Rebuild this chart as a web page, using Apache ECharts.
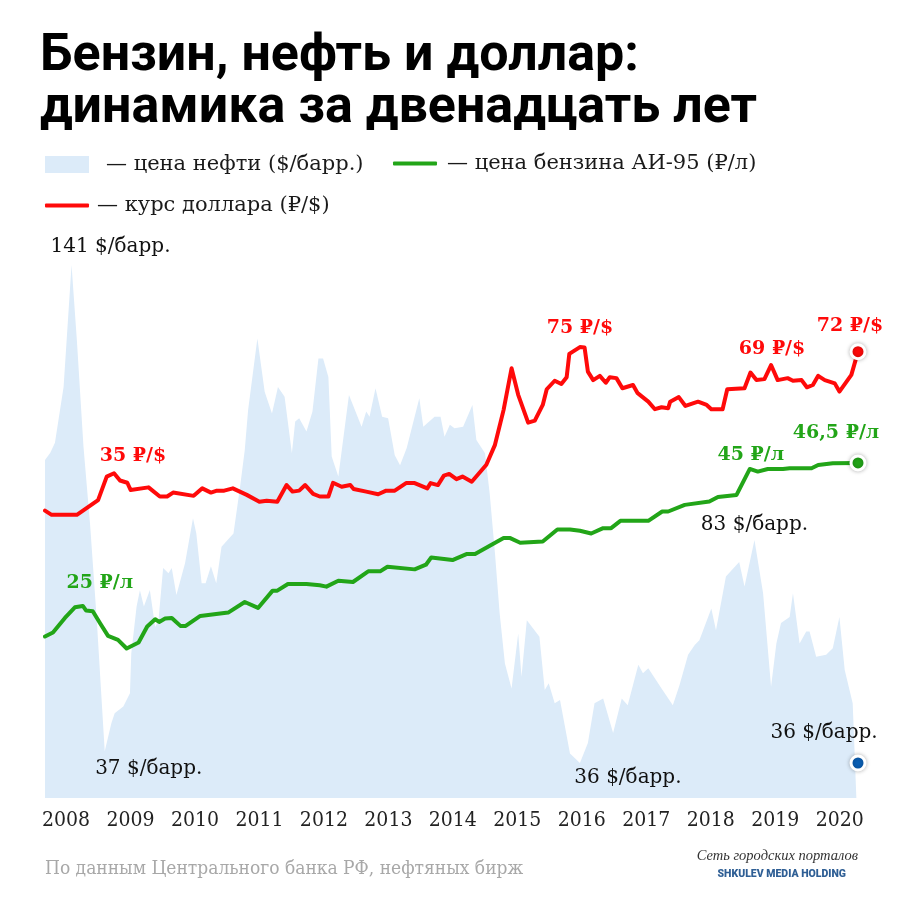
<!DOCTYPE html>
<html>
<head>
<meta charset="utf-8">
<script src="https://cdn.jsdelivr.net/npm/echarts@6/dist/echarts.min.js"></script>
<style>
html,body{margin:0;padding:0;background:#fff;}
#chart{width:900px;height:900px;}
</style>
</head>
<body>
<div id="chart"></div>
<script>
// Decimal-year positions with values
const yearLabels = [2008,2009,2010,2011,2012,2013,2014,2015,2016,2017,2018,2019,2020];

const oilData = [[2008.00,99.9],[2008.08,101.4],[2008.15,103.5],[2008.28,115.3],[2008.40,141],[2008.48,125.2],[2008.58,102.7],[2008.68,86.2],[2008.78,66.2],[2008.90,38.5],[2009.00,44.4],[2009.05,46.5],[2009.18,47.9],[2009.28,50.7],[2009.30,59.1],[2009.38,69.0],[2009.43,72.4],[2009.49,69.0],[2009.58,72.5],[2009.66,64.7],[2009.71,66.1],[2009.78,77.1],[2009.86,76.0],[2009.91,77.1],[2009.98,71.4],[2010.11,78.1],[2010.23,87.6],[2010.28,84.4],[2010.36,73.9],[2010.42,73.9],[2010.50,77.5],[2010.58,73.9],[2010.66,81.6],[2010.84,84.4],[2010.94,94.3],[2011.01,102.0],[2011.06,110.4],[2011.20,125.5],[2011.31,114.3],[2011.42,109.7],[2011.51,115.3],[2011.61,113.2],[2011.72,101.3],[2011.77,108.0],[2011.83,108.7],[2011.94,105.9],[2012.03,110.1],[2012.12,121.3],[2012.19,121.3],[2012.27,117.4],[2012.32,100.6],[2012.42,96.4],[2012.58,113.6],[2012.77,106.9],[2012.84,110.1],[2012.89,109.0],[2012.98,115.0],[2013.08,109.0],[2013.17,108.7],[2013.27,100.9],[2013.35,98.8],[2013.45,102.4],[2013.64,112.9],[2013.70,106.9],[2013.87,109.0],[2013.96,109.0],[2014.02,104.8],[2014.10,107.3],[2014.17,106.6],[2014.30,106.9],[2014.44,111.5],[2014.50,104.1],[2014.63,101.3],[2014.70,92.9],[2014.78,80.2],[2014.85,67.6],[2014.93,57.0],[2015.03,51.7],[2015.13,63.3],[2015.18,54.2],[2015.26,66.1],[2015.45,62.6],[2015.53,51.4],[2015.59,52.8],[2015.68,48.6],[2015.76,49.3],[2015.91,38.0],[2016.06,36.0],[2016.18,40.2],[2016.28,48.6],[2016.41,49.6],[2016.56,42.3],[2016.69,49.6],[2016.78,48.2],[2016.94,56.7],[2017.01,54.9],[2017.09,56.0],[2017.29,51.7],[2017.46,48.2],[2017.56,52.4],[2017.69,58.8],[2017.79,60.9],[2017.86,61.9],[2018.04,68.6],[2018.11,64.0],[2018.26,75.3],[2018.46,78.4],[2018.54,73.2],[2018.69,83.0],[2018.82,71.8],[2018.94,52.1],[2019.02,61.2],[2019.09,65.5],[2019.22,66.8],[2019.27,71.8],[2019.37,61.2],[2019.47,63.7],[2019.52,63.7],[2019.62,58.4],[2019.77,58.8],[2019.87,60.2],[2019.97,66.8],[2020.05,55.6],[2020.17,48.6],[2020.23,27.0]];

const gasData = [[2008.00,20.4],[2008.12,21.0],[2008.30,23.2],[2008.45,24.8],[2008.57,25.0],[2008.62,24.3],[2008.72,24.2],[2008.83,22.4],[2008.95,20.5],[2009.10,19.9],[2009.23,18.6],[2009.41,19.5],[2009.54,21.9],[2009.66,23.0],[2009.72,22.6],[2009.81,23.1],[2009.91,23.2],[2010.04,22.0],[2010.12,22.0],[2010.34,23.5],[2010.76,24.0],[2011.01,25.6],[2011.21,24.7],[2011.43,27.3],[2011.50,27.3],[2011.66,28.3],[2011.94,28.3],[2012.14,28.1],[2012.24,27.9],[2012.42,28.8],[2012.64,28.6],[2012.87,30.2],[2013.05,30.2],[2013.16,30.9],[2013.57,30.5],[2013.74,31.2],[2013.82,32.3],[2014.14,31.9],[2014.35,32.8],[2014.48,32.8],[2014.91,35.2],[2015.01,35.2],[2015.16,34.5],[2015.50,34.7],[2015.72,36.5],[2015.91,36.5],[2016.06,36.3],[2016.23,35.9],[2016.41,36.7],[2016.53,36.7],[2016.67,37.8],[2017.09,37.8],[2017.30,39.2],[2017.39,39.2],[2017.64,40.2],[2018.01,40.7],[2018.14,41.4],[2018.42,41.7],[2018.62,45.6],[2018.74,45.2],[2018.89,45.6],[2019.12,45.6],[2019.22,45.7],[2019.55,45.7],[2019.65,46.2],[2019.87,46.45],[2020.25,46.5]];

const usdData = [[2008.00,23.5],[2008.10,22.2],[2008.48,22.2],[2008.80,26.7],[2008.93,33.9],[2009.04,34.9],[2009.13,32.7],[2009.24,32.0],[2009.29,29.8],[2009.56,30.6],[2009.73,27.8],[2009.84,27.8],[2009.93,29.0],[2010.24,28.0],[2010.37,30.3],[2010.50,29.0],[2010.59,29.6],[2010.70,29.6],[2010.83,30.3],[2011.04,28.3],[2011.23,26.2],[2011.34,26.5],[2011.50,26.2],[2011.64,31.3],[2011.73,29.3],[2011.83,29.6],[2011.92,31.3],[2012.04,28.6],[2012.14,27.8],[2012.27,27.8],[2012.34,32.0],[2012.47,30.8],[2012.60,31.3],[2012.65,30.1],[2012.84,29.3],[2013.02,28.5],[2013.14,29.6],[2013.27,29.6],[2013.44,31.9],[2013.57,31.9],[2013.76,30.3],[2013.81,31.9],[2013.92,31.3],[2014.01,34.2],[2014.09,34.7],[2014.20,33.1],[2014.29,33.9],[2014.43,32.3],[2014.65,37.5],[2014.78,43.6],[2014.91,54.3],[2015.03,67.0],[2015.13,58.9],[2015.28,50.4],[2015.38,51.0],[2015.50,55.8],[2015.56,60.6],[2015.68,63.2],[2015.78,62.2],[2015.86,64.3],[2015.90,71.4],[2016.06,73.5],[2016.13,73.4],[2016.18,66.0],[2016.26,63.4],[2016.36,64.7],[2016.45,62.6],[2016.51,64.3],[2016.61,64.0],[2016.70,60.9],[2016.86,61.9],[2016.93,59.4],[2017.09,56.8],[2017.19,54.5],[2017.29,55.1],[2017.39,54.8],[2017.42,56.8],[2017.55,58.2],[2017.65,55.5],[2017.84,56.8],[2017.97,55.8],[2018.04,54.5],[2018.21,54.5],[2018.28,60.6],[2018.54,60.9],[2018.63,65.7],[2018.72,63.4],[2018.84,63.7],[2018.94,68.0],[2019.04,63.4],[2019.19,64.0],[2019.27,63.2],[2019.40,63.4],[2019.48,61.2],[2019.57,61.9],[2019.65,64.7],[2019.75,63.4],[2019.90,62.4],[2019.97,59.9],[2020.15,65.0],[2020.25,72.1]];

// Annotated points: [x, value, text]
const oilNotes = [[2008.40,141,'141 $/барр.'],[2008.90,38.5,'37 $/барр.'],[2016.06,36.0,'36 $/барр.'],[2018.69,83.0,'83 $/барр.']];
const oilLast = [2020.25,36,'36 $/барр.'];
const gasNotes = [[2008.57,25.0,'25 ₽/л'],[2018.62,45.6,'45 ₽/л']];
const gasLast = [2020.25,46.5,'46,5 ₽/л'];
const usdNotes = [[2009.04,34.9,'35 ₽/$'],[2016.06,73.5,'75 ₽/$'],[2018.94,68.0,'69 ₽/$']];
const usdLast = [2020.25,72.1,'72 ₽/$'];

const OIL = '#dcebf9', GREEN = '#22a518', RED = '#ff0a0a', BLUE = '#0a5fb4';
const SERIF = '"DejaVu Serif", serif';
const COND = '"DejaVu Serif Condensed", "Liberation Serif", serif';

const oilOffsets = [[39,-18],[44,18],[48,15],[0,-15]];
const gasOffsets = [[17,-23],[1,-14]];
const usdOffsets = [[19,-17],[0,-19],[1,-16]];

function notePoints(list, offs, style) {
  return list.map((p, i) => ({
    coord: [p[0], p[1]], symbol: 'circle', symbolSize: 1,
    itemStyle: {color: 'rgba(0,0,0,0)'},
    label: Object.assign({show: true, position: 'inside', offset: offs[i], formatter: p[2]}, style)
  }));
}
function lastPoint(p, color, off, style) {
  return {
    coord: [p[0], p[1]], symbol: 'circle', symbolSize: 14,
    itemStyle: {color: color, borderColor: '#fff', borderWidth: 3, shadowBlur: 4, shadowColor: 'rgba(0,0,0,0.25)'},
    label: Object.assign({show: true, position: 'inside', offset: off, formatter: p[2]}, style)
  };
}
const plainStyle = {fontFamily: SERIF, fontSize: 20, color: '#111'};
const boldStyle = c => ({fontFamily: SERIF, fontWeight: 'bold', fontSize: 19, color: c});

const chart = echarts.init(document.getElementById('chart'), null, {renderer: 'canvas'});
const legendBase = {
  selectedMode: false, padding: 0, itemWidth: 44,
  formatter: '— {name}',
  textStyle: {fontFamily: SERIF, fontSize: 21, color: '#1a1a1a'}
};
chart.setOption({
  animation: false,
  backgroundColor: '#fff',
  title: [
    {text: 'Бензин, нефть и доллар:\nдинамика за двенадцать лет', left: 40, top: 31, padding: 0,
     textStyle: {fontFamily: 'Roboto', fontWeight: 'bold', fontSize: 52, lineHeight: 52, color: '#000'}},
    {text: 'По данным Центрального банка РФ, нефтяных бирж', left: 45, top: 860, padding: 0,
     textStyle: {fontFamily: COND, fontWeight: 'normal', fontSize: 19, color: '#a8a8a8'}},
    {text: 'Сеть городских порталов', right: 42, top: 849, padding: 0,
     textStyle: {fontFamily: '"Liberation Serif", serif', fontStyle: 'italic', fontWeight: 'normal', fontSize: 14.5, color: '#333'}},
    {text: 'SHKULEV MEDIA HOLDING', right: 54, top: 869, padding: 0,
     textStyle: {fontFamily: 'Roboto', fontWeight: 900, fontSize: 10.5, color: '#2f5f95'}}
  ],
  legend: [
    Object.assign({}, legendBase, {left: 45, top: 154, itemHeight: 17,
      data: [{name: 'цена нефти ($/барр.)', icon: 'rect', textStyle: {padding: [0,0,0,12]}}]}),
    Object.assign({}, legendBase, {left: 393, top: 153, itemHeight: 4,
      data: [{name: 'цена бензина АИ-95 (₽/л)', icon: 'roundRect', textStyle: {padding: [0,0,0,5]}}]}),
    Object.assign({}, legendBase, {left: 45, top: 195, itemHeight: 4,
      data: [{name: 'курс доллара (₽/$)', icon: 'roundRect', textStyle: {padding: [0,0,0,3]}}]})
  ],
  grid: {left: 45, right: 42, top: 265, bottom: 102, containLabel: false},
  xAxis: [
    {type: 'value', min: 2008, max: 2020.25, show: false},
    {type: 'value', min: 2007.674, max: 2020.284, position: 'bottom',
     axisLine: {show: false}, axisTick: {show: false}, splitLine: {show: false},
     axisLabel: {customValues: yearLabels, formatter: v => String(v), margin: 12,
       fontFamily: COND, fontSize: 21, color: '#222'}}
  ],
  yAxis: [
    {type: 'value', min: 28.62, max: 141, show: false},
    {type: 'value', min: -3.88, max: 76.27, show: false},
    {type: 'value', min: -64.4, max: 98.6, show: false}
  ],
  series: [
    {name: 'цена нефти ($/барр.)', type: 'line', xAxisIndex: 0, yAxisIndex: 0, data: oilData,
     symbol: 'none', color: OIL, lineStyle: {width: 0}, areaStyle: {color: OIL, opacity: 1}, z: 1,
     markPoint: {silent: true, data: notePoints(oilNotes, oilOffsets, plainStyle)
       .concat([lastPoint(oilLast, BLUE, [-34,-30], plainStyle)])}},
    {name: 'цена бензина АИ-95 (₽/л)', type: 'line', xAxisIndex: 0, yAxisIndex: 1, data: gasData,
     symbol: 'none', color: GREEN, lineStyle: {width: 4, color: GREEN, cap: 'round', join: 'round'}, z: 3,
     markPoint: {silent: true, data: notePoints(gasNotes, gasOffsets, boldStyle(GREEN))
       .concat([lastPoint(gasLast, GREEN, [-22,-30], boldStyle(GREEN))])}},
    {name: 'курс доллара (₽/$)', type: 'line', xAxisIndex: 0, yAxisIndex: 2, data: usdData,
     symbol: 'none', color: RED, lineStyle: {width: 4, color: RED, cap: 'round', join: 'round'}, z: 4,
     markPoint: {silent: true, data: notePoints(usdNotes, usdOffsets, boldStyle(RED))
       .concat([lastPoint(usdLast, RED, [-8,-26], boldStyle(RED))])}}
  ]
});
</script>
</body>
</html>
